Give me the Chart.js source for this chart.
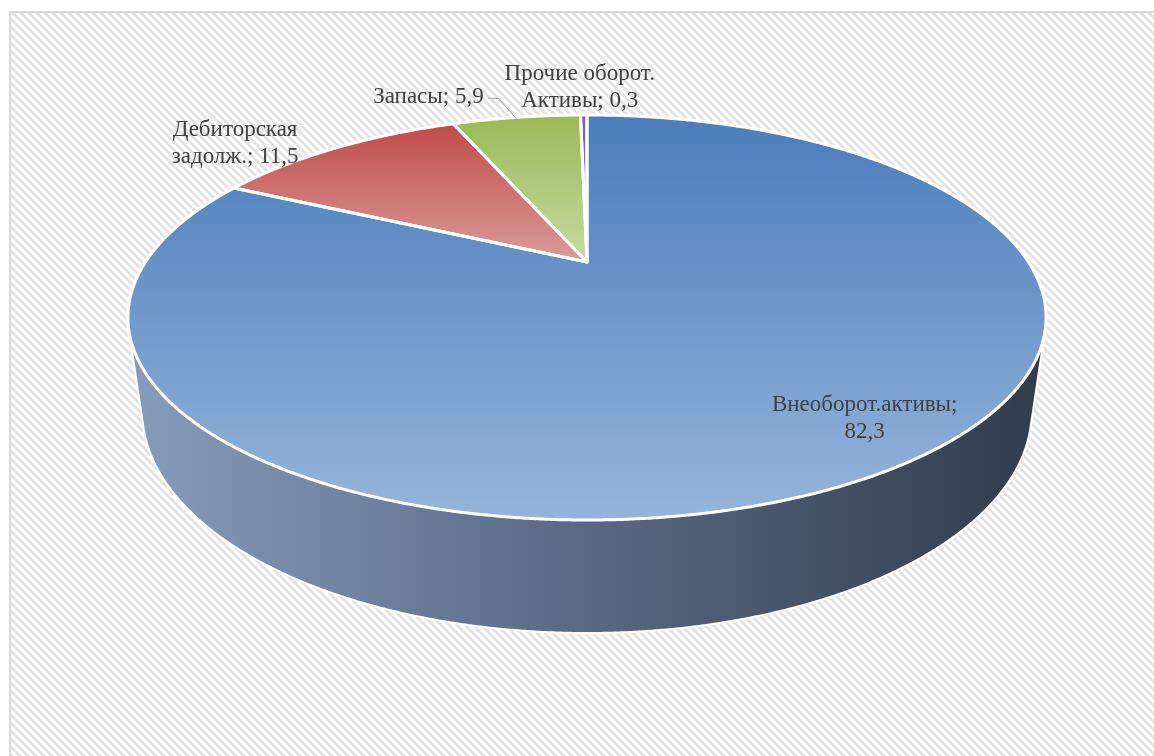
<!DOCTYPE html>
<html><head><meta charset="utf-8">
<script src="https://cdn.jsdelivr.net/npm/chart.js@4/dist/chart.umd.min.js"></script>
<style>html,body{margin:0;padding:0;background:#fff;overflow:hidden}#wrap{width:1154px;height:756px;position:relative}</style>
</head><body><div id="wrap"><canvas id="c" width="1154" height="756"></canvas></div>
<script>
const categories = ['Внеоборот.активы', 'Дебиторская задолж.', 'Запасы', 'Прочие оборот. Активы'];
const values = [82.3, 11.5, 5.9, 0.3];

// styles (not data)
const topGradients = [
  ['#4a7dbb', '#97b5da'],
  ['#bf4c49', '#dc9b99'],
  ['#99ba57', '#c7dba1'],
  ['#7d5fa1', '#a893c4']
];
const sideStops = [[0, '#889dbc'], [0.45, '#5c6d87'], [1, '#313c4b']];
const CAM = { L: 3.305, sinB: 0.4243, cosB: 0.9055, depth: 0.233, kRatio: 1.685 };
const labelPlacement = [
  { dx: -26, dy: -51 },
  { dx: -101, dy: -4 },
  { dx: -88, dy: -20, leader: true },
  { dx: -4, dy: -28 }
];

function fmt(v) { return String(v).replace('.', ','); }

const pie3dPlugin = {
  id: 'pie3d',
  beforeDraw(chart) {
    const ctx = chart.ctx;
    ctx.save();
    ctx.fillStyle = '#ffffff';
    ctx.fillRect(0, 0, chart.width, chart.height);
    const pc = document.createElement('canvas'); pc.width = 8; pc.height = 8;
    const p = pc.getContext('2d');
    p.fillStyle = '#ffffff'; p.fillRect(0, 0, 8, 8);
    p.strokeStyle = '#e3e3e3'; p.lineWidth = 3;
    p.beginPath();
    for (let k = -2; k <= 2; k++) { p.moveTo(k * 8 - 4, -4); p.lineTo(k * 8 + 12, 12); }
    p.stroke();
    ctx.fillStyle = ctx.createPattern(pc, 'repeat');
    ctx.fillRect(10, 12, chart.width, chart.height);
    ctx.strokeStyle = '#d9d9d9'; ctx.lineWidth = 2;
    ctx.strokeRect(10, 12, chart.width + 20, chart.height + 20);
    ctx.restore();
  },
  beforeDatasetsDraw(chart) {
    const meta = chart.getDatasetMeta(0);
    const ctx = chart.ctx;
    const arcs = meta.data;
    const cx = arcs[0].x, cy = arcs[0].y, K = arcs[0].outerRadius * CAM.kRatio;
    const h = CAM.depth;
    function proj(x, y, z) {
      const d = CAM.L + y * CAM.cosB - z * CAM.sinB;
      return [cx + K * CAM.L * x / d, cy - K * CAM.L * (y * CAM.sinB + z * CAM.cosB) / d];
    }
    function pt(phi, rho, z) { return proj(rho * Math.sin(phi), rho * Math.cos(phi), z); }
    function samples(a0, a1) {
      const n = Math.max(2, Math.ceil((a1 - a0) / (Math.PI / 720)));
      const out = [];
      for (let i = 0; i <= n; i++) out.push(a0 + (a1 - a0) * i / n);
      return out;
    }
    const slices = arcs.map(a => ({ p0: a.startAngle + Math.PI / 2, p1: a.endAngle + Math.PI / 2 }));

    ctx.save();
    // side walls: only front-facing quads
    const sg = ctx.createLinearGradient(cx - K * 1.04, 0, cx + K * 1.04, 0);
    sideStops.forEach(s => sg.addColorStop(s[0], s[1]));
    const wall = new Path2D();
    const rim = new Path2D();
    slices.forEach(s => {
      const ph = samples(s.p0, s.p1);
      let open = false, last = null;
      for (let i = 0; i < ph.length - 1; i++) {
        const q = [pt(ph[i], 1, 0), pt(ph[i + 1], 1, 0), pt(ph[i + 1], 1, -h), pt(ph[i], 1, -h)];
        let area = 0;
        for (let j = 0; j < 4; j++) { const a = q[j], b = q[(j + 1) % 4]; area += a[0] * b[1] - b[0] * a[1]; }
        if (area < 0) {
          wall.moveTo(q[0][0], q[0][1]);
          for (let j = 1; j < 4; j++) wall.lineTo(q[j][0], q[j][1]);
          wall.closePath();
          if (!open) { rim.moveTo(q[0][0], q[0][1]); rim.lineTo(q[3][0], q[3][1]); open = true; }
          rim.lineTo(q[2][0], q[2][1]);
          last = q;
        } else {
          if (open && last) rim.lineTo(last[1][0], last[1][1]);
          open = false;
        }
      }
    });
    ctx.fillStyle = sg;
    ctx.fill(wall, 'nonzero');
    ctx.strokeStyle = '#ffffff'; ctx.lineWidth = 2; ctx.lineJoin = 'round';
    ctx.stroke(rim);

    // top faces
    slices.forEach((s, idx) => {
      const pts = [pt(0, 0, 0)].concat(samples(s.p0, s.p1).map(ph => pt(ph, 1, 0)));
      let minY = Infinity, maxY = -Infinity;
      pts.forEach(q => { minY = Math.min(minY, q[1]); maxY = Math.max(maxY, q[1]); });
      const g = ctx.createLinearGradient(0, minY, 0, maxY);
      g.addColorStop(0, topGradients[idx][0]);
      g.addColorStop(1, topGradients[idx][1]);
      ctx.beginPath();
      pts.forEach((q, i) => i ? ctx.lineTo(q[0], q[1]) : ctx.moveTo(q[0], q[1]));
      ctx.closePath();
      ctx.fillStyle = g;
      ctx.fill();
    });
    slices.forEach((s) => {
      const pts = [pt(0, 0, 0)].concat(samples(s.p0, s.p1).map(ph => pt(ph, 1, 0)));
      ctx.beginPath();
      pts.forEach((q, i) => i ? ctx.lineTo(q[0], q[1]) : ctx.moveTo(q[0], q[1]));
      ctx.closePath();
      ctx.strokeStyle = '#ffffff'; ctx.lineWidth = 3; ctx.lineJoin = 'round';
      ctx.stroke();
    });

    // labels
    ctx.font = '23px "Liberation Serif", "Times New Roman", serif';
    ctx.fillStyle = '#404040';
    ctx.textAlign = 'center';
    ctx.textBaseline = 'middle';
    const lineH = 27, wrapW = 200;
    slices.forEach((s, idx) => {
      const text = categories[idx] + '; ' + fmt(values[idx]);
      const words = text.split(' ');
      const lines = [];
      let cur = '';
      words.forEach(w => {
        const t = cur ? cur + ' ' + w : w;
        if (cur && ctx.measureText(t).width > wrapW) { lines.push(cur); cur = w; } else cur = t;
      });
      lines.push(cur);
      const mid = (s.p0 + s.p1) / 2;
      const anchor = pt(mid, 1, 0);
      const lp = labelPlacement[idx];
      const lx = anchor[0] + lp.dx, ly = anchor[1] + lp.dy;
      const top = ly - (lines.length - 1) * lineH / 2;
      lines.forEach((l, i) => ctx.fillText(l, lx, top + i * lineH));
      if (lp.leader) {
        const wdt = Math.max(...lines.map(l => ctx.measureText(l).width));
        const end = pt(mid, 0.97, 0);
        const sx = lx + wdt / 2 + 4, sy = ly + 1;
        ctx.beginPath();
        ctx.moveTo(sx, sy); ctx.lineTo(sx + 11, sy); ctx.lineTo(end[0], end[1]);
        ctx.strokeStyle = '#a6a6a6'; ctx.lineWidth = 1; ctx.stroke();
      }
    });
    ctx.restore();
    return false;
  }
};

new Chart(document.getElementById('c'), {
  type: 'pie',
  data: {
    labels: categories,
    datasets: [{ data: values, borderWidth: 0, backgroundColor: topGradients.map(g => g[0]) }]
  },
  options: {
    responsive: false,
    animation: false,
    layout: { padding: { left: 20, right: 0, top: 0, bottom: 232 } },
    plugins: { legend: { display: false }, tooltip: { enabled: false } }
  },
  plugins: [pie3dPlugin]
});
</script>
</body></html>
